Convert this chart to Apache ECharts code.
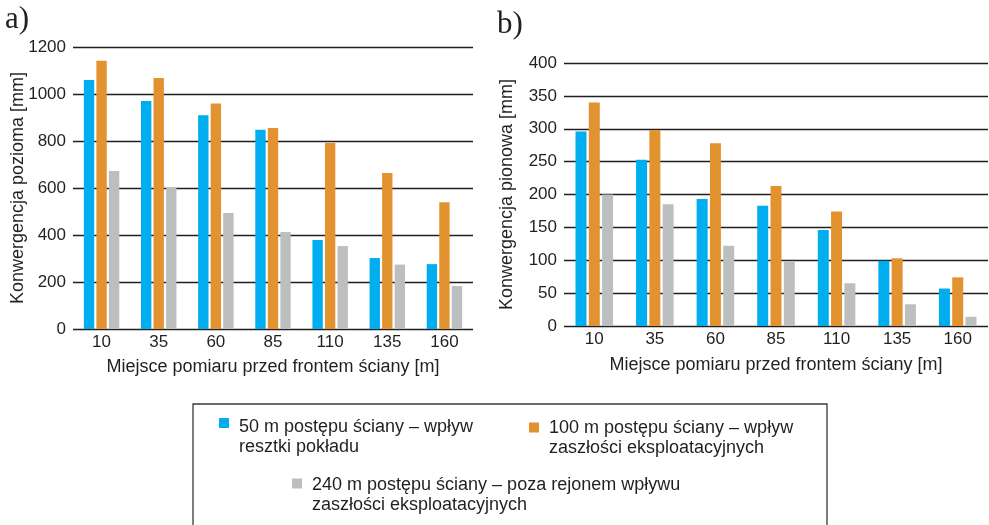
<!DOCTYPE html>
<html>
<head>
<meta charset="utf-8">
<script src="https://cdn.jsdelivr.net/npm/echarts@6/dist/echarts.min.js"></script>
<style>
  html, body { margin: 0; padding: 0; background: #fff; }
  #chart { width: 989px; height: 525px; }
</style>
</head>
<body>
<div id="chart"></div>
<script>
// Measurement points in front of the longwall face [m]
const categories = ['10', '35', '60', '85', '110', '135', '160'];

// Series names (legend)
const name50 = '50 m postępu ściany – wpływ\nresztki pokładu';
const name100 = '100 m postępu ściany – wpływ\nzaszłości eksploatacyjnych';
const name240 = '240 m postępu ściany – poza rejonem wpływu\nzaszłości eksploatacyjnych';

// a) horizontal convergence [mm]
const horiz50 = [1060, 970, 910, 848, 379, 302, 276];
const horiz100 = [1142, 1068, 960, 855, 792, 664, 539];
const horiz240 = [672, 602, 494, 413, 353, 274, 183];

// b) vertical convergence [mm]
const vert50 = [296, 253, 193, 183, 146, 99, 57];
const vert100 = [340, 298, 278, 213, 174, 103, 74];
const vert240 = [200, 185, 122, 98, 65, 33, 14];

const BLUE = '#00aeef';
const ORANGE = '#e39230';
const GRAY = '#bcbec0';
const INK = '#231f20';
const SANS = '"Liberation Sans", Arial, Helvetica, sans-serif';
const SERIF = '"Liberation Serif", "Times New Roman", serif';

const chart = echarts.init(document.getElementById('chart'), null, { renderer: 'canvas' });

function valueAxis(gridIndex, max, interval, name, nameGap) {
  return {
    type: 'value', gridIndex, min: 0, max, interval,
    name, nameLocation: 'middle', nameGap, nameRotate: 90,
    nameMoveOverlap: false,
    nameTextStyle: { fontFamily: SANS, fontSize: 18, color: INK },
    axisLine: { show: false }, axisTick: { show: false },
    axisLabel: {
      fontFamily: SANS, fontSize: 17, color: INK, margin: 7,
      formatter: v => String(v)
    },
    splitLine: { show: true, lineStyle: { color: INK, width: 1.3 } }
  };
}

function categoryAxis(gridIndex, nameGap) {
  return {
    type: 'category', gridIndex, data: categories,
    name: 'Miejsce pomiaru przed frontem ściany [m]',
    nameLocation: 'middle', nameGap, nameMoveOverlap: false,
    nameTextStyle: { fontFamily: SANS, fontSize: 18, color: INK },
    axisLine: { show: false }, axisTick: { show: false },
    axisLabel: { fontFamily: SANS, fontSize: 17, color: INK, margin: 5 }
  };
}

function bars(name, data, color, idx) {
  return {
    type: 'bar', name, data, xAxisIndex: idx, yAxisIndex: idx,
    itemStyle: { color }, barGap: '21%', barCategoryGap: '38%',
    silent: true, animation: false
  };
}

// Legend entry: the marker sits beside the first text line; a spacer line
// above the text pushes the two-line caption down to that position.
function legendFor(name, left, top, spacer) {
  return {
    data: [name], left, top, orient: 'horizontal', padding: 0,
    icon: 'rect', itemWidth: 10, itemHeight: 10, selectedMode: false,
    formatter: n => {
      const lines = n.split('\n');
      return '{s| }\n' + lines.map(l => '{t|' + l + '}').join('\n');
    },
    textStyle: {
      fontFamily: SANS, fontSize: 18, color: INK,
      rich: {
        s: { fontSize: 1, lineHeight: spacer, height: spacer },
        t: { fontFamily: SANS, fontSize: 18, color: INK, lineHeight: 20, padding: [0, 0, 0, 5] }
      }
    }
  };
}

chart.setOption({
  animation: false,
  backgroundColor: '#fff',
  title: [
    { text: 'a)', left: 5, top: 4, padding: 0,
      textStyle: { fontFamily: SERIF, fontSize: 31, fontWeight: 'normal', color: INK } },
    { text: 'b)', left: 497, top: 9, padding: 0,
      textStyle: { fontFamily: SERIF, fontSize: 31, fontWeight: 'normal', color: INK } }
  ],
  grid: [
    { left: 73, right: 516, top: 47, bottom: 196 },
    { left: 564, right: 1, top: 63, bottom: 199 }
  ],
  xAxis: [categoryAxis(0, 29), categoryAxis(1, 30)],
  yAxis: [
    valueAxis(0, 1200, 200, 'Konwergencja pozioma [mm]', 46),
    valueAxis(1, 400, 50, 'Konwergencja pionowa [mm]', 48)
  ],
  legend: [
    legendFor(name50, 219, 389, 28),
    legendFor(name100, 529, 397, 21),
    legendFor(name240, 292, 452, 23)
  ],
  graphic: [{
    type: 'rect', silent: true,
    shape: { x: 193, y: 404, width: 634, height: 160 },
    style: { fill: 'none', stroke: '#3a3a3a', lineWidth: 1.3 }
  }],
  series: [
    bars(name50, horiz50, BLUE, 0),
    bars(name100, horiz100, ORANGE, 0),
    bars(name240, horiz240, GRAY, 0),
    bars(name50, vert50, BLUE, 1),
    bars(name100, vert100, ORANGE, 1),
    bars(name240, vert240, GRAY, 1)
  ]
});
</script>
</body>
</html>
